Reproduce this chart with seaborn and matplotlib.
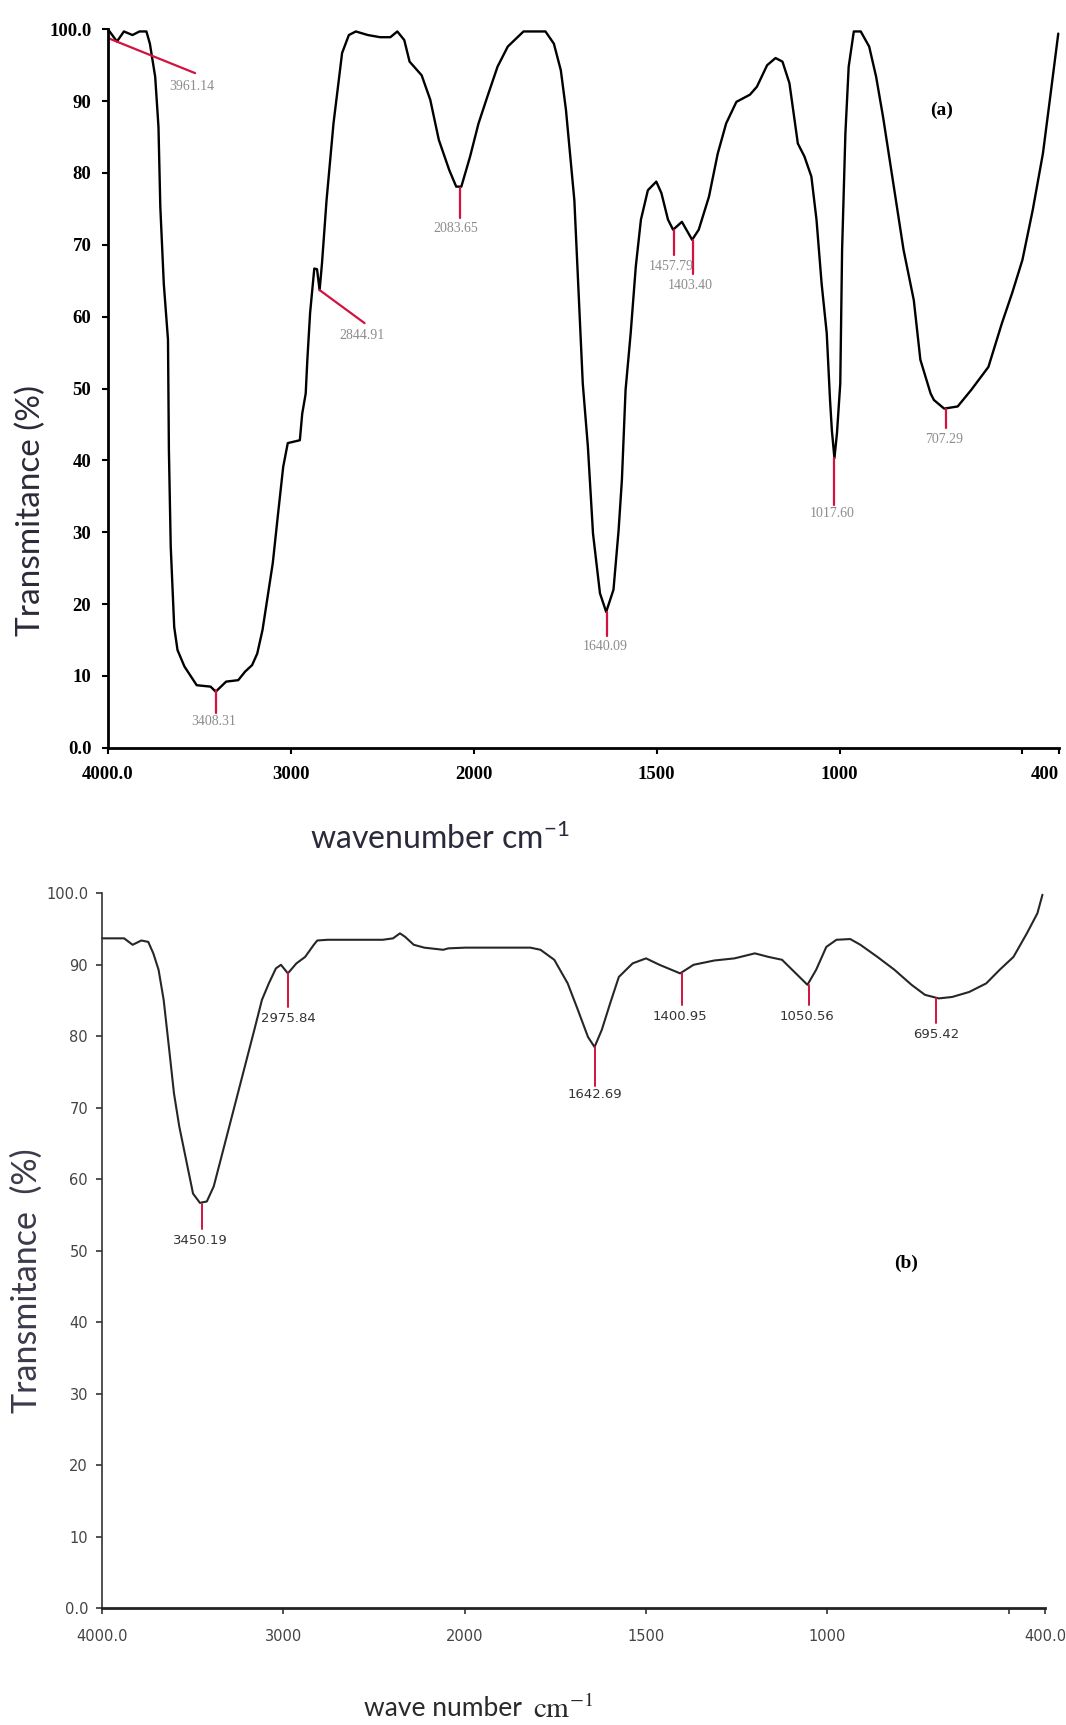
import numpy as np
import pandas as pd
import matplotlib
matplotlib.use("Agg")
import matplotlib.pyplot as plt
import seaborn as sns

# ---------------- data ----------------
wn_a = [4000, 3951, 3913, 3866, 3828, 3790, 3771, 3742, 3724, 3714, 3695, 3672,
        3667, 3657, 3638, 3620, 3582, 3515, 3439, 3411, 3354, 3288, 3250, 3212,
        3184, 3155, 3127, 3099, 3070, 3042, 3017, 2951, 2938, 2919, 2910, 2895,
        2872, 2857, 2843, 2830, 2805, 2767, 2720, 2683, 2645, 2579, 2512, 2456,
        2418, 2380, 2351, 2285, 2238, 2191, 2134, 2096, 2068, 2020, 1987, 1963,
        1935, 1907, 1864, 1842, 1804, 1781, 1762, 1748, 1725, 1702, 1688, 1674,
        1655, 1638, 1618, 1604, 1595, 1585, 1571, 1557, 1543, 1524, 1501, 1487,
        1469, 1455, 1431, 1403, 1385, 1357, 1333, 1310, 1282, 1245, 1226, 1198,
        1175, 1156, 1137, 1124, 1114, 1096, 1077, 1063, 1049, 1035, 1026, 1021,
        1014, 1007, 998, 993, 984, 975, 961, 942, 919, 900, 881, 853,
        825, 797, 779, 751, 742, 714, 677, 640, 593, 556, 528, 500,
        472, 444, 425, 402]
T_a = [100.0, 98.3, 99.7, 99.2, 99.7, 99.7, 98.0, 93.4, 86.4, 75.3, 64.6, 56.8,
       41.4, 28.0, 16.8, 13.6, 11.3, 8.7, 8.5, 7.8, 9.2, 9.4, 10.6, 11.5,
       13.1, 16.4, 21.0, 25.7, 32.6, 39.1, 42.4, 42.8, 46.5, 49.3, 54.0, 60.5,
       66.7, 66.6, 63.7, 67.4, 76.2, 86.9, 96.7, 99.2, 99.7, 99.2, 98.9, 98.9,
       99.7, 98.5, 95.5, 93.6, 90.2, 84.6, 80.4, 78.1, 78.1, 82.3, 86.9, 90.6,
       94.8, 97.6, 99.7, 99.7, 99.7, 98.0, 94.3, 88.8, 76.2, 50.7, 41.9, 29.8,
       21.5, 18.9, 22.0, 30.3, 37.3, 49.8, 57.7, 67.0, 73.5, 77.6, 78.8, 77.2,
       73.5, 72.1, 73.2, 70.7, 72.1, 76.7, 82.7, 86.9, 89.9, 90.9, 92.0, 95.0,
       96.0, 95.5, 92.5, 87.8, 84.1, 82.3, 79.5, 73.5, 64.6, 57.7, 48.4, 44.2,
       40.3, 43.8, 50.7, 69.3, 85.5, 94.8, 99.7, 99.7, 97.6, 93.4, 87.8, 78.6,
       69.3, 62.3, 54.0, 49.3, 48.4, 47.2, 47.5, 49.8, 53.0, 59.1, 63.3, 67.9,
       74.8, 82.7, 90.2, 99.4]

wn_b = [4000, 3878, 3831, 3783, 3745, 3717, 3688, 3660, 3631, 3603, 3574, 3536,
        3498, 3460, 3422, 3384, 3346, 3298, 3251, 3203, 3156, 3118, 3080, 3041,
        3013, 2975, 2928, 2880, 2832, 2813, 2756, 2452, 2395, 2357, 2328, 2281,
        2223, 2119, 2090, 1998, 1819, 1791, 1753, 1716, 1688, 1660, 1642, 1622,
        1599, 1575, 1537, 1500, 1463, 1406, 1369, 1312, 1256, 1200, 1162, 1125,
        1087, 1055, 1031, 1003, 975, 937, 909, 862, 815, 768, 731, 693,
        656, 609, 562, 525, 487, 450, 421, 407]
T_b = [93.7, 93.7, 92.8, 93.4, 93.2, 91.6, 89.3, 85.1, 78.5, 72.0, 67.4, 62.7,
       58.0, 56.7, 56.9, 59.0, 62.7, 67.4, 72.0, 76.7, 81.3, 85.1, 87.4, 89.5,
       90.0, 88.8, 90.2, 91.1, 92.8, 93.4, 93.5, 93.5, 93.7, 94.4, 93.9, 92.8,
       92.4, 92.1, 92.3, 92.4, 92.4, 92.1, 90.7, 87.4, 83.7, 79.9, 78.5, 80.9,
       84.6, 88.3, 90.2, 90.9, 90.0, 88.8, 90.0, 90.6, 90.9, 91.6, 91.1, 90.7,
       88.8, 87.2, 89.3, 92.5, 93.5, 93.6, 92.8, 91.1, 89.3, 87.2, 85.8, 85.3,
       85.5, 86.2, 87.4, 89.3, 91.1, 94.4, 97.2, 99.8]

# peak annotations: text, line start (wn, T), line end (wn, T), label (wn, T)
peak_a_text = ["3961.14", "2844.91", "2083.65", "1457.79", "1403.40",
               "3408.31", "1640.09", "1017.60", "707.29"]
peak_a_x0 = [3992, 2843, 2073, 1453, 1401, 3409, 1636, 1015, 709]
peak_a_y0 = [98.7, 63.7, 77.9, 72.1, 70.7, 8.0, 18.9, 40.3, 47.2]
peak_a_x1 = [3524, 2597, 2073, 1453, 1401, 3409, 1636, 1015, 709]
peak_a_y1 = [93.9, 59.1, 73.7, 68.6, 66.0, 4.8, 15.5, 33.8, 44.5]
peak_a_lx = [3544, 2610, 2096, 1459, 1407, 3420, 1641, 1021, 714]
peak_a_ly = [92.0, 57.4, 72.3, 67.0, 64.3, 3.6, 14.1, 32.6, 42.9]

peak_b_text = ["3450.19", "2975.84", "1642.69", "1400.95", "1050.56", "695.42"]
peak_b_x = [3450, 2975, 1642, 1402, 1052, 701]
peak_b_y0 = [56.6, 88.8, 78.5, 88.8, 87.2, 85.3]
peak_b_y1 = [53.1, 84.1, 73.0, 84.4, 84.4, 81.8]
peak_b_lx = [3460, 2975, 1642, 1406, 1055, 701]
peak_b_ly = [51.5, 82.5, 71.8, 82.7, 82.7, 80.2]

x_ticks = [4000, 3000, 2000, 1500, 1000, 500, 400]
x_labels_a = ["4000.0", "3000", "2000", "1500", "1000", "", "400"]
x_labels_b = ["4000.0", "3000", "2000", "1500", "1000", "", "400.0"]
y_ticks = [0, 10, 20, 30, 40, 50, 60, 70, 80, 90, 100]
y_labels = ["0.0", "10", "20", "30", "40", "50", "60", "70", "80", "90", "100.0"]

# ---------------- style ----------------
sns.set_style("ticks")
plt.rcParams["font.family"] = ["DejaVu Sans"]
plt.rcParams["mathtext.fontset"] = "stix"

W, H = 1066, 1725
fig = plt.figure(figsize=(W / 100, H / 100), dpi=100)


def fwd(w):
    w = np.asarray(w, dtype=float)
    return np.where(w >= 2000, w, 2 * w - 2000)


def inv(u):
    u = np.asarray(u, dtype=float)
    return np.where(u >= 2000, u, (u + 2000) / 2)


def px_axes(l, r, t, b):
    return fig.add_axes([l / W, 1 - b / H, (r - l) / W, (b - t) / H])


ax_a = px_axes(108, 1059, 29.3, 747.7)
ax_b = px_axes(102, 1045, 893.3, 1608.3)

df_a = pd.DataFrame({"wavenumber": wn_a, "T": T_a})
df_b = pd.DataFrame({"wavenumber": wn_b, "T": T_b})

sns.lineplot(data=df_a, x="wavenumber", y="T", ax=ax_a, sort=False,
             estimator=None, color="black", linewidth=1.7)
sns.lineplot(data=df_b, x="wavenumber", y="T", ax=ax_b, sort=False,
             estimator=None, color="#262626", linewidth=1.5)
for ax in (ax_a, ax_b):
    ax.lines[0].set_clip_on(False)
    ax.set_xscale("function", functions=(fwd, inv))
    ax.set_xlim(4000, 400)
    ax.set_ylim(0, 100)
    ax.set_xlabel("")
    ax.set_ylabel("")
    ax.spines[["top", "right"]].set_visible(False)
    ax.set_facecolor("white")
    ax.set_xticks(x_ticks)
    ax.set_yticks(y_ticks)
    ax.minorticks_off()

red = "#d3123f"

# ---- panel (a) ----
ax_a.set_xticklabels(x_labels_a, fontfamily="Liberation Serif",
                     fontweight="bold", fontsize=13.5)
ax_a.set_yticklabels(y_labels, fontfamily="Liberation Serif",
                     fontweight="bold", fontsize=13.5)
ax_a.get_xticklabels()[-1].set_horizontalalignment("right")
for s in ("left", "bottom"):
    ax_a.spines[s].set_linewidth(2.0)
    ax_a.spines[s].set_color("black")
ax_a.tick_params(axis="both", direction="out", length=4, width=1.5,
                 colors="black")
ax_a.tick_params(axis="y", pad=8)
ax_a.tick_params(axis="x", pad=9)

for t, x0, y0, x1, y1, lx, ly in zip(peak_a_text, peak_a_x0, peak_a_y0,
                                     peak_a_x1, peak_a_y1, peak_a_lx, peak_a_ly):
    ax_a.plot([x0, x1], [y0, y1], color=red, linewidth=1.6, clip_on=False)
    ax_a.text(lx, ly, t, ha="center", va="center", color="#8c8c8c",
              fontfamily="Liberation Serif", fontsize=10)

ax_a.text(0.877, 0.887, "(a)", transform=ax_a.transAxes, ha="center",
          va="center", fontfamily="Liberation Serif", fontweight="bold",
          fontsize=14, color="black")

# ---- panel (b) ----
ax_b.set_xticklabels(x_labels_b, fontfamily="DejaVu Sans", fontsize=10.5,
                     color="#444444")
ax_b.set_yticklabels(y_labels, fontfamily="DejaVu Sans", fontsize=10.5,
                     color="#444444")
ax_b.spines["left"].set_linewidth(1.2)
ax_b.spines["left"].set_color("#333333")
ax_b.spines["bottom"].set_linewidth(2.0)
ax_b.spines["bottom"].set_color("#222222")
ax_b.tick_params(axis="both", direction="out", length=4, width=1.2,
                 colors="#333333", labelcolor="#444444")
ax_b.tick_params(axis="y", pad=6)
ax_b.tick_params(axis="x", pad=11)

for t, x, y0, y1, lx, ly in zip(peak_b_text, peak_b_x, peak_b_y0, peak_b_y1,
                                peak_b_lx, peak_b_ly):
    ax_b.plot([x, x], [y0, y1], color=red, linewidth=1.4)
    ax_b.text(lx, ly, t, ha="center", va="center", color="#333333",
              fontfamily="DejaVu Sans", fontsize=9.5)

ax_b.text(0.853, 0.483, "(b)", transform=ax_b.transAxes, ha="center",
          va="center", fontfamily="Liberation Serif", fontweight="bold",
          fontsize=14, color="black")

# ---- axis titles ----
lab_col = "#2a2a3a"
fig.text(31 / W, 1 - 511 / H, "Transmitance (%)", rotation=90, ha="center",
         va="center", fontfamily="Lato", fontsize=24, color=lab_col)
fig.text(440 / W, 1 - 838 / H, r"wavenumber cm$^{\mathregular{-1}}$",
         ha="center", va="center", fontfamily="Lato", fontsize=23,
         color=lab_col)
fig.text(27 / W, 1 - 1281 / H, "Transmitance  (%)", rotation=90, ha="center",
         va="center", fontfamily="Lato", fontsize=24.5, color="#3a3a4a")
fig.text(522 / W, 1 - 1708 / H, "wave number", ha="right", va="center",
         fontfamily="Lato", fontsize=19, color="#2a2a2a")
fig.text(533 / W, 1 - 1710 / H, r"$\mathrm{cm}^{\mathrm{-1}}$", ha="left",
         va="center", fontsize=21, color="#2a2a2a")

fig.savefig("out.png", dpi=100, facecolor="white")
